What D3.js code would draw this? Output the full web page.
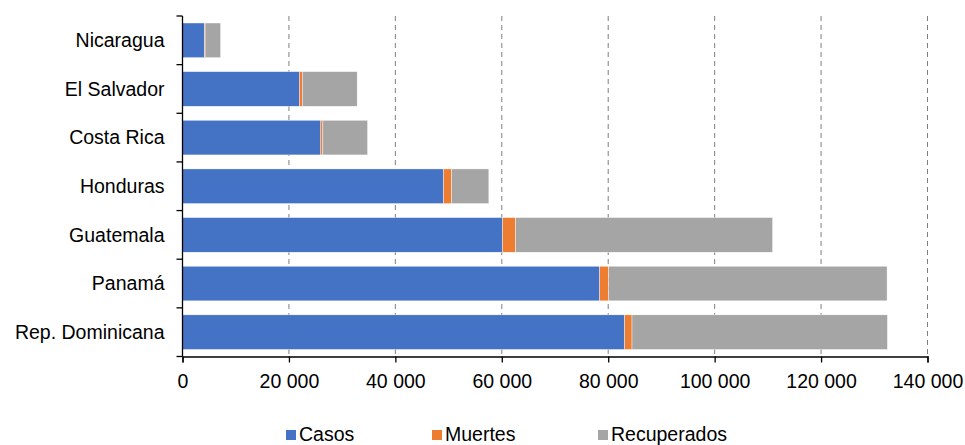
<!DOCTYPE html>
<html>
<head>
<meta charset="utf-8">
<script src="https://cdn.jsdelivr.net/npm/d3@7"></script>
<style>
  body { margin: 0; background: #fff; }
  text { font-family: "Liberation Sans", Arial, sans-serif; fill: #000; }
</style>
</head>
<body>
<script>
var paises = ["Nicaragua", "El Salvador", "Costa Rica", "Honduras", "Guatemala", "Panamá", "Rep. Dominicana"];
var casos = [4115, 21960, 26000, 49070, 60150, 78400, 83100];
var muertes = [128, 560, 380, 1500, 2440, 1700, 1370];
var recuperados = [2913, 10300, 8400, 7000, 48300, 52300, 48000];
var series = ["Casos", "Muertes", "Recuperados"];
var colores = ["#4472C4", "#ED7D31", "#A5A5A5"];
var ticks = [0, 20000, 40000, 60000, 80000, 100000, 120000, 140000];

var w = 965, h = 445;
var mLeft = 182.5, mRight = 927.5, mTop = 16, mBottom = 356.5;
var fs = "19.5px";

var svg = d3.select("body").append("svg").attr("width", w).attr("height", h);

var x = d3.scaleLinear().domain([0, 140000]).range([mLeft, mRight]);
var y = d3.scaleBand().domain(paises).range([mTop, mBottom]).paddingInner(0.288).paddingOuter(0.144);

var fmt = function (d) { return d3.format(",")(d).replace(/,/g, " "); };

// grid
svg.append("g").selectAll("line").data(ticks.slice(1)).enter().append("line")
  .attr("x1", function (d) { return x(d); }).attr("x2", function (d) { return x(d); })
  .attr("y1", mTop).attr("y2", mBottom)
  .attr("stroke", "#7f7f7f").attr("stroke-width", 1).attr("stroke-dasharray", "5,4");

var table = paises.map(function (p, i) {
  return { pais: p, Casos: casos[i], Muertes: muertes[i], Recuperados: recuperados[i] };
});
var stack = d3.stack().keys(series)(table);

svg.append("g").selectAll("g").data(stack).enter().append("g")
  .attr("fill", function (d, i) { return colores[i]; })
  .selectAll("rect").data(function (d) { return d; }).enter().append("rect")
  .attr("x", function (d) { return x(d[0]); })
  .attr("width", function (d) { return x(d[1]) - x(d[0]); })
  .attr("y", function (d) { return y(d.data.pais); })
  .attr("height", y.bandwidth())
  .attr("stroke", "#fff").attr("stroke-width", 0.4);

// x axis
var xAxis = svg.append("g").attr("transform", "translate(0," + mBottom + ")")
  .call(d3.axisBottom(x).tickValues(ticks).tickFormat(fmt).tickSize(6).tickPadding(12));
xAxis.select(".domain").attr("stroke", "#000").attr("stroke-width", 1.3);
xAxis.selectAll(".tick line").attr("stroke", "#000").attr("stroke-width", 1.3);
xAxis.selectAll("text").style("font-family", "Liberation Sans, Arial, sans-serif").style("font-size", fs).attr("fill", "#000");

// y axis
svg.append("line").attr("x1", mLeft).attr("x2", mLeft).attr("y1", mTop).attr("y2", mBottom)
  .attr("stroke", "#000").attr("stroke-width", 1.3);
var step = y.step();
svg.append("g").selectAll("line").data(d3.range(paises.length + 1)).enter().append("line")
  .attr("x1", mLeft - 6).attr("x2", mLeft)
  .attr("y1", function (d) { return mTop + d * step; }).attr("y2", function (d) { return mTop + d * step; })
  .attr("stroke", "#000").attr("stroke-width", 1.3);
svg.append("g").selectAll("text").data(paises).enter().append("text")
  .attr("x", 164.5).attr("y", function (d) { return y(d) + y.bandwidth() / 2; })
  .attr("dy", "0.35em").attr("text-anchor", "end").style("font-size", fs)
  .text(function (d) { return d; });

// legend
var legX = [286, 432, 598];
var leg = svg.append("g").selectAll("g").data(series).enter().append("g")
  .attr("transform", function (d, i) { return "translate(" + legX[i] + ",430)"; });
leg.append("rect").attr("width", 10).attr("height", 10).attr("fill", function (d, i) { return colores[i]; });
leg.append("text").attr("x", 13).attr("y", 11).style("font-size", fs)
  .text(function (d) { return d; });
</script>
</body>
</html>
